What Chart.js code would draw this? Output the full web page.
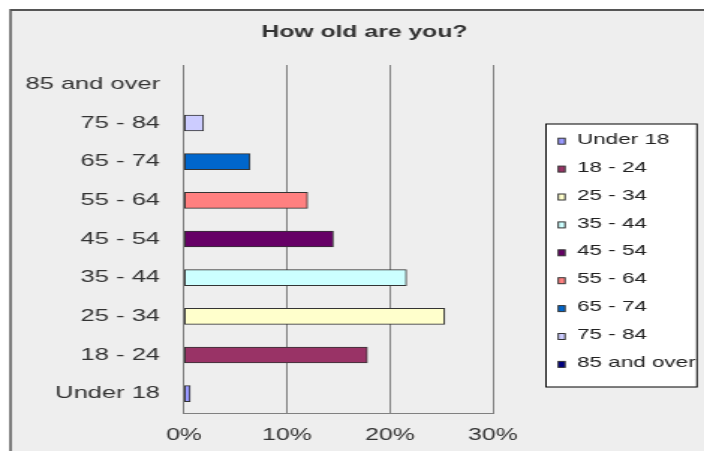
<!DOCTYPE html>
<html>
<head>
<meta charset="utf-8">
<script src="https://cdn.jsdelivr.net/npm/chart.js@4"></script>
<style>
  html, body { margin: 0; padding: 0; background: #ffffff; overflow: hidden; }
  /* the chart is laid out narrow and stretched sideways */
  #wrap { width: 470px; height: 451px; transform: scaleX(1.4979); transform-origin: 0 0; }
</style>
</head>
<body>
<div id="wrap"><canvas id="ageChart" width="470" height="451"></canvas></div>
<script>
const ageGroups = ["Under 18", "18 - 24", "25 - 34", "35 - 44", "45 - 54", "55 - 64", "65 - 74", "75 - 84", "85 and over"];
const shares = [0.6, 17.8, 25.3, 21.6, 14.5, 12.0, 6.4, 1.9, 0];
const barColors = ["#9999FF", "#993366", "#FFFFCC", "#CCFFFF", "#660066", "#FF8080", "#0066CC", "#CCCCFF", "#000080"];
const xTicks = [0, 10, 20, 30];

const FONT = "'Liberation Sans', Arial, sans-serif";

// grey frame behind everything, title on top
const framePlugin = {
  id: "frame",
  beforeDraw(chart) {
    const ctx = chart.ctx;
    ctx.save();
    ctx.fillStyle = "#eeeeee";
    ctx.fillRect(7, 10, chart.width, chart.height);
    ctx.strokeStyle = "#555555";
    ctx.lineWidth = 2;
    ctx.beginPath();
    ctx.moveTo(chart.width + 5, 10);
    ctx.lineTo(7, 10);
    ctx.stroke();
    ctx.lineWidth = 1.5;
    ctx.beginPath();
    ctx.moveTo(7, 9);
    ctx.lineTo(7, chart.height + 5);
    ctx.stroke();

    ctx.fillStyle = "#333333";
    ctx.font = "bold 16.5px " + FONT;
    ctx.textAlign = "center";
    ctx.textBaseline = "middle";
    ctx.fillText("How old are you?", 243.3, 32);
    ctx.restore();
  }
};

// boxed legend, one entry per age group
const legendPlugin = {
  id: "boxLegend",
  afterDraw(chart) {
    const ctx = chart.ctx;
    const ds = chart.data.datasets[0];
    const left = 364.5, top = 124, right = 465.3, bottom = 387;
    ctx.save();
    ctx.fillStyle = "#ffffff";
    ctx.fillRect(left, top, right - left, bottom - top);
    ctx.strokeStyle = "#000000";
    ctx.lineWidth = 1;
    ctx.strokeRect(left, top, right - left, bottom - top);
    ctx.font = "15px " + FONT;
    ctx.textAlign = "left";
    ctx.textBaseline = "middle";
    chart.data.labels.forEach((label, i) => {
      const y = 139.7 + i * 27.9;
      ctx.fillStyle = ds.backgroundColor[i];
      ctx.fillRect(372.7, y - 1.5, 4.5, 6);
      ctx.strokeStyle = "#333333";
      ctx.strokeRect(372.7, y - 1.5, 4.5, 6);
      ctx.fillStyle = "#222222";
      ctx.fillText(label, 385.2, y);
    });
    ctx.restore();
  }
};

new Chart(document.getElementById("ageChart"), {
  type: "bar",
  data: {
    labels: ageGroups,
    datasets: [
      {
        label: "How old are you?",
        data: shares,
        backgroundColor: barColors,
        borderColor: "#333333",
        borderWidth: 1,
        borderSkipped: false,
        barThickness: 16,
      },
    ],
  },
  options: {
    responsive: false,
    animation: false,
    indexAxis: "y",
    layout: { padding: { top: 65, right: 140.9, left: 0, bottom: 0 } },
    plugins: {
      legend: { display: false },
      title: { display: false },
      tooltip: { enabled: false },
    },
    scales: {
      x: {
        min: 0,
        max: 30,
        afterFit: (scale) => { scale.height = 38; },
        afterBuildTicks: (scale) => { scale.ticks = xTicks.map((v) => ({ value: v })); },
        ticks: {
          padding: 13,
          color: "#333333",
          font: { family: FONT, size: 16.5 },
          callback: (v) => v + "%",
        },
        grid: { color: "#808080", lineWidth: 1, drawTicks: false },
        border: { display: true, color: "#808080", width: 1 },
      },
      y: {
        reverse: true,
        afterFit: (scale) => { scale.width = 122.8; },
        ticks: {
          padding: 16,
          color: "#333333",
          font: { family: FONT, size: 17 },
        },
        grid: { display: false, drawTicks: false },
        border: { display: true, color: "#808080", width: 1 },
      },
    },
  },
  plugins: [framePlugin, legendPlugin],
});
</script>
</body>
</html>
